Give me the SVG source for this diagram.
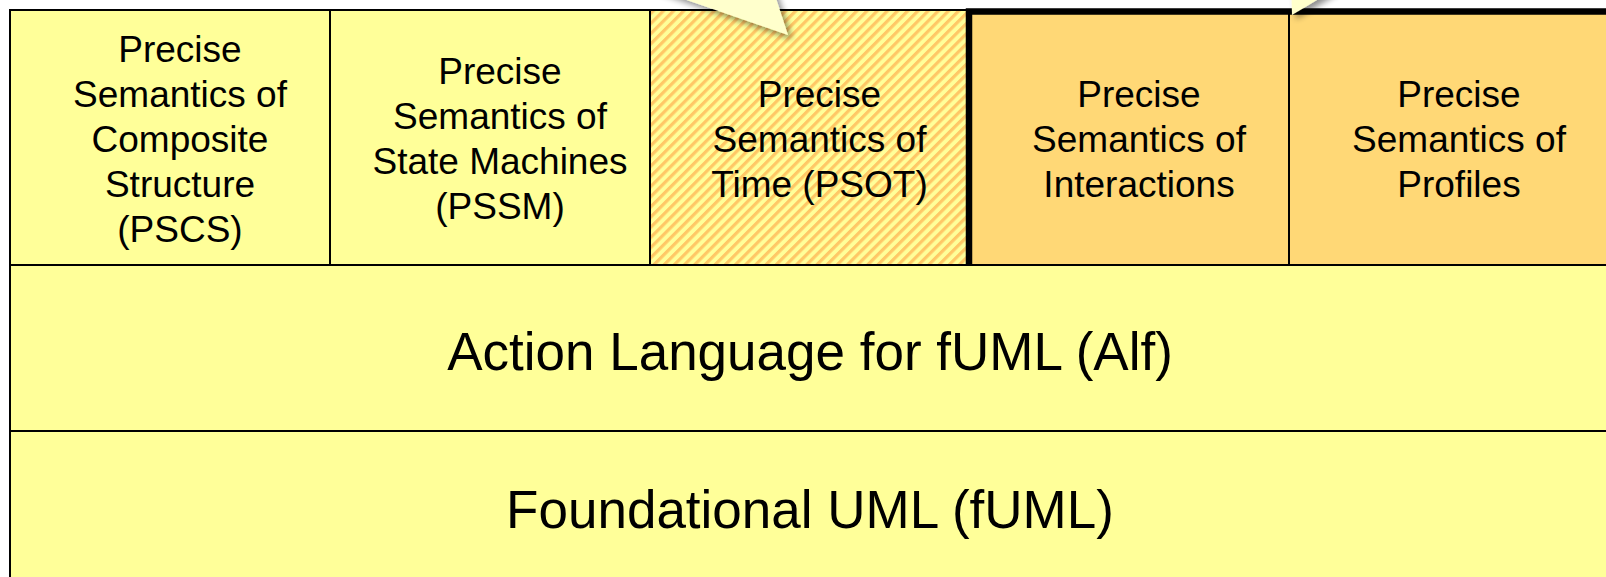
<svg xmlns="http://www.w3.org/2000/svg" width="1606" height="577" viewBox="0 0 1606 577">
<style>
.cell{fill:#FFFF99;stroke:#000;stroke-width:2}
.org{fill:#FFD876;stroke:#000;stroke-width:2}
.t{font-family:"Liberation Sans",Arial,sans-serif;font-size:37px;fill:#000;text-anchor:middle}
.big{font-family:"Liberation Sans",Arial,sans-serif;font-size:53px;fill:#000;text-anchor:middle}
.callout{fill:#FFFFCC;filter:url(#sh)}
</style>
<defs>
<pattern id="hatch" patternUnits="userSpaceOnUse" width="7.2" height="7.2" patternTransform="rotate(45)">
<rect width="7.2" height="7.2" fill="#FFFF99"/>
<rect width="3.2" height="7.2" fill="#FFC866"/>
</pattern>
<filter id="sh" x="-50%" y="-50%" width="200%" height="200%">
<feGaussianBlur in="SourceAlpha" stdDeviation="3"/>
<feOffset dx="4" dy="4" result="b"/>
<feComponentTransfer><feFuncA type="linear" slope="0.45"/></feComponentTransfer>
<feMerge><feMergeNode/><feMergeNode in="SourceGraphic"/></feMerge>
</filter>
</defs>
<rect width="1606" height="577" fill="#fff"/>
<g id="pscs">
<rect class="cell" x="10" y="10" width="320" height="255"/>
<text class="t"><tspan x="180" y="61.5">Precise</tspan><tspan x="180" y="106.5">Semantics of</tspan><tspan x="180" y="151.5">Composite</tspan><tspan x="180" y="196.5">Structure</tspan><tspan x="180" y="241.5">(PSCS)</tspan></text>
</g>
<g id="pssm">
<rect class="cell" x="330" y="10" width="320" height="255"/>
<text class="t"><tspan x="500" y="84">Precise</tspan><tspan x="500" y="129">Semantics of</tspan><tspan x="500" y="174">State Machines</tspan><tspan x="500" y="219">(PSSM)</tspan></text>
</g>
<g id="psot">
<rect x="650" y="10" width="319" height="255" fill="url(#hatch)" stroke="#000" stroke-width="2"/>
<text class="t"><tspan x="819.5" y="106.5">Precise</tspan><tspan x="819.5" y="151.5">Semantics of</tspan><tspan x="819.5" y="196.5">Time (PSOT)</tspan></text>
</g>
<g id="interactions">
<rect class="org" x="969" y="11" width="320" height="254"/>
<text class="t"><tspan x="1139" y="106.5">Precise</tspan><tspan x="1139" y="151.5">Semantics of</tspan><tspan x="1139" y="196.5">Interactions</tspan></text>
</g>
<g id="profiles">
<rect class="org" x="1289" y="11" width="330" height="254"/>
<text class="t"><tspan x="1459" y="106.5">Precise</tspan><tspan x="1459" y="151.5">Semantics of</tspan><tspan x="1459" y="196.5">Profiles</tspan></text>
</g>
<g id="highlight-frame">
<path d="M969,265 V11.5 H1620" fill="none" stroke="#000" stroke-width="6.5"/>
</g>
<g id="alf">
<rect class="cell" x="10" y="265" width="1620" height="166"/>
<text class="big" x="810" y="370">Action Language for fUML (Alf)</text>
</g>
<g id="fuml">
<rect class="cell" x="10" y="431" width="1620" height="170"/>
<text class="big" x="810" y="528">Foundational UML (fUML)</text>
</g>
<g id="callouts">
<polygon class="callout" points="629,-20 788,35 770,-20"/>
<polygon class="callout" points="1291,-20 1292,15 1350,-20"/>
</g>
</svg>
